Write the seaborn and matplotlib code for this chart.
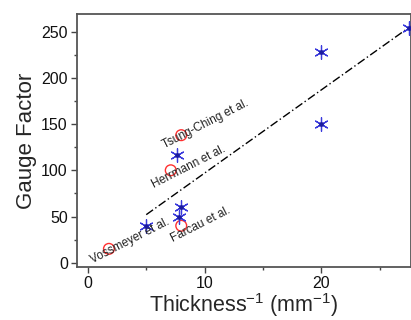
import matplotlib
matplotlib.use("Agg")
import matplotlib.pyplot as plt
import seaborn as sns
import pandas as pd

# literature values (open circles)
lit_x = [1.8, 7.1, 8.0, 8.0]
lit_gf = [15, 100, 138, 40]
lit_names = ["Vossmeyer et al.", "Herrmann et al.", "Tsung-Ching et al.", "Farcau et al."]

# this work (asterisks)
our_x = [5.0, 7.6, 8.0, 7.85, 20.0, 20.0, 27.5]
our_gf = [40, 117, 60, 50, 228, 150, 254]

# linear trend line
fit_x = [5.0, 27.8]
fit_y = [52, 257]

# label anchor positions (data coords)
label_x = [0.5, 5.8, 6.7, 7.4]
label_y = [-4, 78, 121, 20]

sns.set_style("ticks")
plt.rcParams["font.family"] = ["Liberation Sans", "DejaVu Sans"]
plt.rcParams["mathtext.fontset"] = "custom"
plt.rcParams["mathtext.rm"] = "Liberation Sans"

fig = plt.figure(figsize=(4.11, 3.2), dpi=100)
ax = fig.add_axes([0.187, 0.166, 0.813, 0.79])

lit = pd.DataFrame({"x": lit_x, "gf": lit_gf})
our = pd.DataFrame({"x": our_x, "gf": our_gf})

ax.plot(fit_x, fit_y, color="black", lw=1.0, linestyle=(0, (6, 2, 1, 2)), zorder=1)
sns.scatterplot(data=lit, x="x", y="gf", ax=ax, marker="o", s=60,
                facecolors="none", edgecolor="#ff3030", linewidth=1.0, zorder=3)
sns.scatterplot(data=our, x="x", y="gf", ax=ax, marker=(6, 2, 0), s=95,
                color="#3a3adc", linewidth=0.9, zorder=3)
ax.scatter(our_x, our_gf, s=6, color="#1a1aa0", zorder=4)

for name, lx, ly in zip(lit_names, label_x, label_y):
    ax.text(lx, ly, name, fontsize=8.5, rotation=27, rotation_mode="anchor",
            ha="left", va="bottom", color="#222222")

ax.set_xlim(-0.95, 27.7)
ax.set_ylim(-4.5, 269)
ax.set_xticks([0, 10, 20])
ax.set_xticks([5, 15, 25], minor=True)
ax.set_yticks([0, 50, 100, 150, 200, 250])
ax.set_yticks([25, 75, 125, 175, 225], minor=True)
ax.tick_params(which="major", direction="out", length=4, width=1, labelsize=11.5,
               color="#444444", labelcolor="#111111", pad=2.5)
ax.tick_params(which="minor", direction="out", length=2.5, width=1, color="#444444")
for sp in ax.spines.values():
    sp.set_linewidth(1.3)
    sp.set_color("#555555")

ax.set_xlabel(r"Thickness$^{\mathregular{-1}}$ (mm$^{\mathregular{-1}}$)", fontsize=15.5, labelpad=0)
ax.set_ylabel("Gauge Factor", fontsize=16, labelpad=3)

fig.savefig("out.png", dpi=100)
